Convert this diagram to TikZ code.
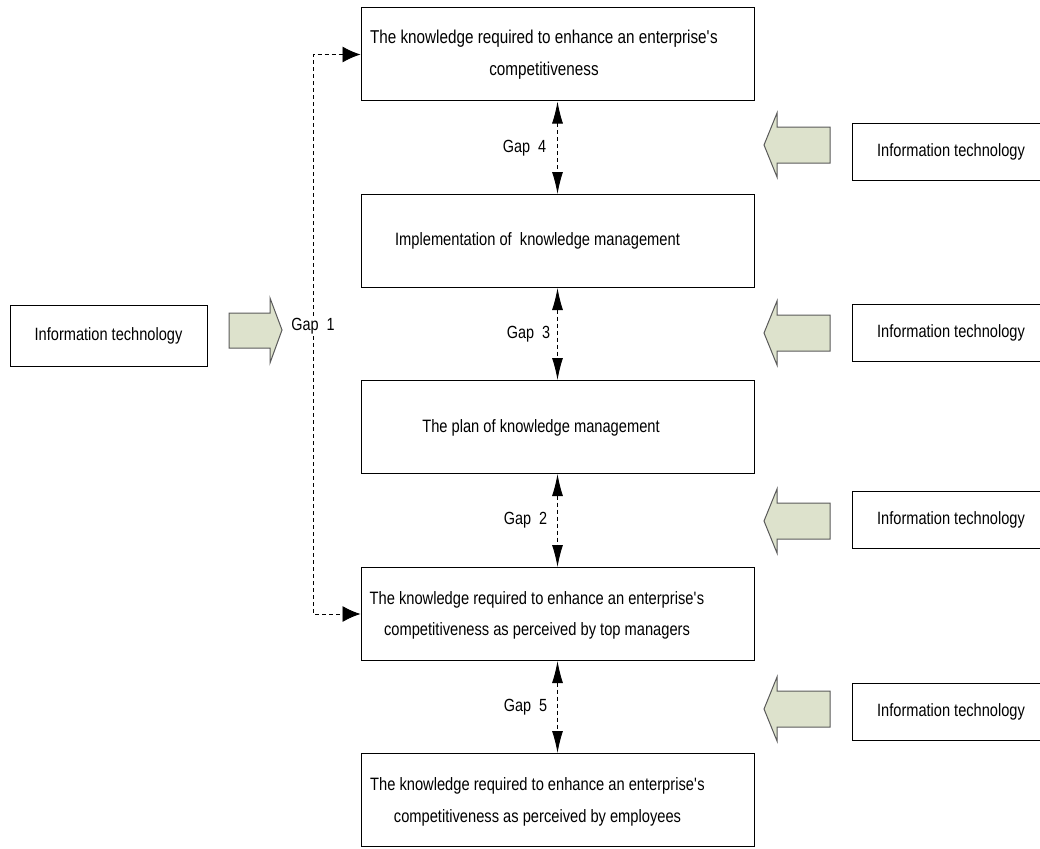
\documentclass[tikz,border=0pt]{standalone}
\usepackage{fontspec}
\setmainfont{Liberation Sans}[FakeStretch=0.82]
\usetikzlibrary{arrows.meta}
\definecolor{arrfill}{RGB}{221,226,204}
\definecolor{arrdraw}{RGB}{90,90,90}
\tikzset{
  x=1pt, y=-1pt,
  box/.style={draw, line width=1pt, minimum width=393pt, minimum height=93pt, inner sep=0pt},
  itbox/.style={draw, line width=1pt, minimum width=190pt, minimum height=57pt, inner sep=0pt},
  ittxt/.style={font=\fontsize{17.8}{20}\selectfont, inner sep=0pt},
  txt/.style={font=\fontsize{17.9}{31.5}\selectfont, align=center, inner sep=0pt},
  bigtxt/.style={txt, font=\fontsize{18.6}{32}\selectfont},
  gaplbl/.style={font=\fontsize{17.6}{20}\selectfont, inner sep=2pt},
  gaparrow/.style={{Latex[length=22pt,width=11pt]}-{Latex[length=22pt,width=11pt]}, dash pattern=on 4pt off 3pt, line width=0.9pt},
  gapone/.style={-{Latex[length=18pt,width=16pt]}, dash pattern=on 4pt off 3pt, line width=0.9pt},
  blockarrow/.style={fill=arrfill, draw=arrdraw, line width=1pt, line join=miter},
  larrow/.pic={\draw[blockarrow] (0,0) -- (13,-32) -- (13,-18) -- (66,-18) -- (66,18) -- (13,18) -- (13,32) -- cycle;},
  rarrow/.pic={\draw[blockarrow] (0,0) -- (-12,-32) -- (-12,-17) -- (-53,-17) -- (-53,18) -- (-12,18) -- (-12,33) -- cycle;}
}
\begin{document}
\begin{tikzpicture}
\useasboundingbox (0,0) rectangle (1040,848);
% central boxes
\node[box] (b1) at (557.5,54.5) {};
\node[box] (b2) at (557.5,241) {};
\node[box] (b3) at (557.5,427) {};
\node[box] (b4) at (557.5,614) {};
\node[box] (b5) at (557.5,800) {};
\node[bigtxt] (t1) at (544,54.5) {The knowledge required to enhance an enterprise\textquotesingle s\\competitiveness};
\node[txt] (t2) at (537.5,241) {Implementation of~ knowledge management};
\node[txt] (t3) at (541,428) {The plan of knowledge management};
\node[txt] (t4) at (537,615.5) {The knowledge required to enhance an enterprise\textquotesingle s\\competitiveness as perceived by top managers};
\node[txt] (t5) at (537.5,802) {The knowledge required to enhance an enterprise\textquotesingle s\\competitiveness as perceived by employees};
% gap arrows
\draw[gaparrow] (b1.south) -- node[gaplbl, pos=0.5, xshift=-33pt] (g4) {Gap~~4} (b2.north);
\draw[gaparrow] (b2.south) -- node[gaplbl, pos=0.5, xshift=-29pt] (g3) {Gap~~3} (b3.north);
\draw[gaparrow] (b3.south) -- node[gaplbl, pos=0.5, xshift=-32pt] (g2) {Gap~~2} (b4.north);
\draw[gaparrow] (b4.south) -- node[gaplbl, pos=0.5, xshift=-32pt] (g5) {Gap~~5} (b5.north);
% gap 1
\node[gaplbl] (g1) at (313,326) {Gap~~1};
\draw[gapone] (g1.north) |- (b1.west);
\draw[gapone] (g1.south) |- (b4.west);
% left IT box
\node[itbox, minimum width=197pt, minimum height=61pt, ittxt] (itl) at (108.5,335.5) {Information technology};
\pic at (282,330) {rarrow};
% right IT boxes
\node[itbox] (it1) at (947,151.5) {};
\node[itbox] (it2) at (947,332.5) {};
\node[itbox] (it3) at (947,519.5) {};
\node[itbox] (it4) at (947,711.5) {};
\node[ittxt] (it1t) at (951,151.5) {Information technology};
\node[ittxt] (it2t) at (951,332.5) {Information technology};
\node[ittxt] (it3t) at (951,519.5) {Information technology};
\node[ittxt] (it4t) at (951,711.5) {Information technology};
\pic at (764,145) {larrow};
\pic at (764,333) {larrow};
\pic at (764,521) {larrow};
\pic at (764,709) {larrow};
\end{tikzpicture}
\end{document}
